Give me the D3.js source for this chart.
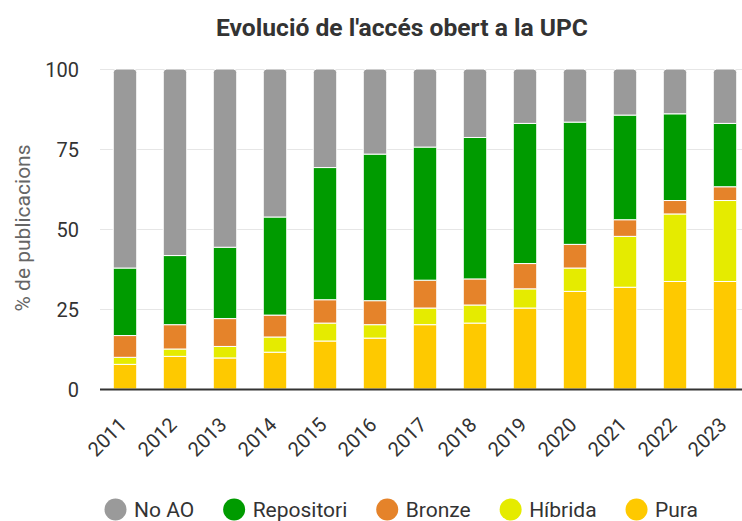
<!DOCTYPE html>
<html>
<head>
<meta charset="utf-8">
<script src="https://cdn.jsdelivr.net/npm/d3@7"></script>
<style>
  html, body { margin: 0; padding: 0; background: #fff; }
  svg { display: block; font-family: Roboto, "Noto Sans", sans-serif; }
</style>
</head>
<body>
<svg id="chart" width="742" height="521"></svg>
<script>
// ---- Data ----
const years = ["2011","2012","2013","2014","2015","2016","2017","2018","2019","2020","2021","2022","2023"];
const pura       = [7.7, 10.2, 9.7, 11.5, 15.0, 15.9, 20.1, 20.6, 25.3, 30.5, 31.8, 33.6, 33.6];
const hibrida    = [2.2, 2.3, 3.6, 4.75, 5.6, 4.2, 5.2, 5.65, 6.0, 7.3, 15.9, 21.1, 25.3];
const bronze     = [6.8, 7.6, 8.7, 6.85, 7.3, 7.5, 8.7, 8.15, 7.9, 7.4, 5.2, 4.2, 4.3];
const repositori = [21.1, 21.6, 22.3, 30.65, 41.3, 45.8, 41.6, 44.2, 43.8, 38.2, 32.7, 27.1, 19.8];
const noAO       = [62.2, 58.3, 55.7, 46.25, 30.8, 26.6, 24.4, 21.4, 17.0, 16.6, 14.4, 14.0, 17.0];
const yTicks = [0, 25, 50, 75, 100];
const seriesNames = ["Pura", "Híbrida", "Bronze", "Repositori", "No AO"];      // stack order (bottom -> top)
const legendNames = ["No AO", "Repositori", "Bronze", "Híbrida", "Pura"];      // legend order
const colors = { "No AO": "#9a9a9a", "Repositori": "#009b00", "Bronze": "#e5832a", "Híbrida": "#e5eb00", "Pura": "#fec900" };
const titleText = "Evolució de l'accés obert a la UPC";
const yTitle = "% de publicacions";

// ---- Build table ----
const table = years.map((y, i) => ({
  year: y,
  "Pura": pura[i], "Híbrida": hibrida[i], "Bronze": bronze[i],
  "Repositori": repositori[i], "No AO": noAO[i]
}));

const svg = d3.select("#chart");
const plot = { left: 100, right: 750, top: 69, bottom: 389 };

const x = d3.scaleBand().domain(years).range([plot.left, plot.right])
  .paddingInner(0.53).paddingOuter(0.265);
const y = d3.scaleLinear().domain([0, 100]).range([plot.bottom, plot.top]);

// Title
svg.append("text")
  .attr("x", 402).attr("y", 36)
  .attr("text-anchor", "middle")
  .attr("font-size", 23).attr("font-weight", 700)
  .attr("fill", "#333")
  .attr("textLength", 372).attr("lengthAdjust", "spacingAndGlyphs")
  .text(titleText);

// Grid lines
svg.append("g").selectAll("line").data(yTicks.filter(d => d !== 0)).join("line")
  .attr("x1", plot.left).attr("x2", 742)
  .attr("y1", d => y(d) + 0.5).attr("y2", d => y(d) + 0.5)
  .attr("stroke", "#e6e6e6").attr("stroke-width", 1);

// Y axis labels
const yAxis = d3.axisLeft(y).tickValues(yTicks).tickSize(0).tickPadding(21);
const gy = svg.append("g").attr("transform", `translate(${plot.left},0)`).call(yAxis);
gy.select(".domain").remove();
gy.selectAll("text").attr("font-size", 20).attr("fill", "#333")
  .attr("font-family", "Roboto, sans-serif").attr("dy", "0.35em");

// Y title
svg.append("text")
  .attr("transform", `translate(30,${(plot.top + plot.bottom) / 2 - 1}) rotate(-90)`)
  .attr("text-anchor", "middle")
  .attr("font-size", 21).attr("fill", "#666")
  .text(yTitle);

// Stacked bars
const stack = d3.stack().keys(seriesNames);
const stacked = stack(table);
const topKey = seriesNames[seriesNames.length - 1];
const r = 3.5;

function roundedTop(x0, y0, w, h, rad) {
  return `M${x0},${y0 + h} L${x0},${y0 + rad} Q${x0},${y0} ${x0 + rad},${y0} ` +
         `L${x0 + w - rad},${y0} Q${x0 + w},${y0} ${x0 + w},${y0 + rad} L${x0 + w},${y0 + h} Z`;
}

const gBars = svg.append("g");
stacked.forEach(layer => {
  const key = layer.key;
  gBars.append("g").selectAll("path").data(layer).join("path")
    .attr("d", d => {
      const x0 = x(d.data.year), w = x.bandwidth();
      const y0 = y(d[1]), h = y(d[0]) - y(d[1]);
      return key === topKey ? roundedTop(x0, y0, w, h, r) : `M${x0},${y0}h${w}v${h}h${-w}Z`;
    })
    .attr("fill", colors[key])
    .attr("stroke", "#fff").attr("stroke-width", 1);
});

// X axis baseline
svg.append("line")
  .attr("x1", plot.left).attr("x2", 742)
  .attr("y1", plot.bottom + 0.5).attr("y2", plot.bottom + 0.5)
  .attr("stroke", "#333").attr("stroke-width", 2);

// X labels
const xAxis = d3.axisBottom(x).tickSize(0).tickPadding(0);
const gx = svg.append("g").attr("transform", `translate(0,${plot.bottom})`).call(xAxis);
gx.select(".domain").remove();
gx.selectAll("text")
  .attr("font-size", 20).attr("fill", "#333").attr("font-family", "Roboto, sans-serif")
  .attr("text-anchor", "end")
  .attr("dy", 0).attr("y", 0)
  .attr("transform", "translate(3,37) rotate(-45)");

// Legend
const legendLeft = 104.5, legendRight = 698;
const legend = svg.append("g");
const items = legend.selectAll("g").data(legendNames).join("g");
items.append("circle").attr("r", 11).attr("cx", 11).attr("cy", 0).attr("fill", d => colors[d]);
items.append("text").attr("x", 29.5).attr("y", 0).attr("dy", "0.35em")
  .attr("font-size", 21).attr("fill", "#333").text(d => d);
const widths = [];
items.each(function () { widths.push(29.5 + d3.select(this).select("text").node().getComputedTextLength()); });
const gap = (legendRight - legendLeft - d3.sum(widths)) / (widths.length - 1);
let cx = legendLeft;
items.each(function (d, i) {
  d3.select(this).attr("transform", `translate(${cx},509.5)`);
  cx += widths[i] + gap;
});
</script>
</body>
</html>
